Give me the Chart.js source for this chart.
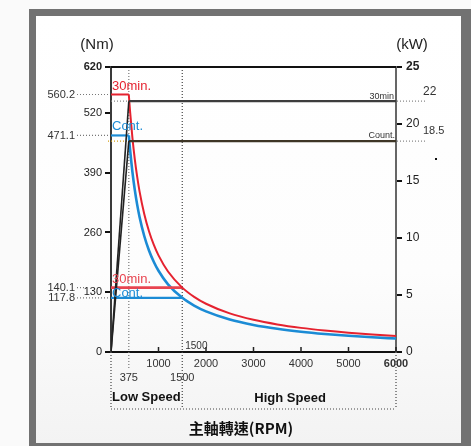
<!DOCTYPE html>
<html>
<head>
<meta charset="utf-8">
<script src="https://cdn.jsdelivr.net/npm/chart.js@4.4.1/dist/chart.umd.min.js"></script>
<style>
  html, body { margin:0; padding:0; background:#fafafa; }
  #wrap { position:relative; width:471px; height:446px; overflow:hidden; }
  #frame { position:absolute; left:29px; top:9px; width:442px; height:437px; box-sizing:border-box;
    border-style:solid; border-color:#727272; border-width:7px 10px 3px 7px;
    background:linear-gradient(180deg,#ffffff 0%,#fdfdfd 60%,#f3f3f3 100%); }
  canvas { position:absolute; left:0; top:0; }
</style>
</head>
<body>
<div id="wrap">
  <div id="frame"></div>
  <canvas id="c" width="471" height="446"></canvas>
</div>
<script>
// ---- data ----
const curveRpm   = [375, 400, 450, 500, 550, 600, 700, 800, 900, 1000, 1200, 1500, 1750, 2000, 2500, 3000, 3500, 4000, 4500, 5000, 5500, 6000];
const torque30   = [560.2, 525.2, 466.8, 420.2, 382.0, 350.1, 300.1, 262.6, 233.4, 210.1, 175.1, 140.1, 120.0, 105.0, 84.0, 70.0, 60.0, 52.5, 46.7, 42.0, 38.2, 35.0];
const torqueCont = [471.1, 441.7, 392.6, 353.3, 321.2, 294.4, 252.4, 220.8, 196.3, 176.7, 147.2, 117.8, 100.9, 88.3, 70.7, 58.9, 50.5, 44.2, 39.3, 35.3, 32.1, 29.4];
const baseRpm    = [0, 375];          // constant-torque region
const lowRpm     = [0, 1500];         // low-speed winding region
const powerRpm   = [0, 375, 6000];
const power30    = [0, 22, 22];
const powerCont  = [0, 18.5, 18.5];
const leftTicks  = [0, 130, 260, 390, 520, 620];
const rightTicks = [0, 5, 10, 15, 20, 25];
const xTicks     = [1000, 2000, 3000, 4000, 5000, 6000];
const torqueMarks = [560.2, 471.1, 140.1, 117.8];
const powerMarks  = [22, 18.5];
const speedMarks  = [375, 1500];

const pts = (xs, ys) => xs.map((x, i) => ({x: x, y: ys[i]}));
const RED = '#e5222f', BLUE = '#1b8bd5';

const datasets = [
  {data: pts(powerRpm.slice(0,2), power30.slice(0,2)), yAxisID:'y1', borderColor:'#222', borderWidth:1.6},
  {data: pts(powerRpm.slice(0,2), powerCont.slice(0,2)), yAxisID:'y1', borderColor:'#222', borderWidth:1.6},
  {data: pts(powerRpm.slice(1), power30.slice(1)), yAxisID:'y1', borderColor:'#3c3c3c', borderWidth:2.2},
  {data: pts(powerRpm.slice(1), powerCont.slice(1)), yAxisID:'y1', borderColor:'#3e3626', borderWidth:2.2},
  {data: pts(baseRpm, [torque30[0], torque30[0]]), yAxisID:'y', borderColor:RED, borderWidth:2},
  {data: pts(curveRpm, torque30), yAxisID:'y', borderColor:RED, borderWidth:2, cubicInterpolationMode:'monotone'},
  {data: pts(lowRpm, [torque30[11], torque30[11]]), yAxisID:'y', borderColor:'#e84450', borderWidth:2.6},
  {data: pts(baseRpm, [torqueCont[0], torqueCont[0]]), yAxisID:'y', borderColor:BLUE, borderWidth:2.2},
  {data: pts(curveRpm, torqueCont), yAxisID:'y', borderColor:BLUE, borderWidth:2.6, cubicInterpolationMode:'monotone'},
  {data: pts(lowRpm, [torqueCont[11], torqueCont[11]]), yAxisID:'y', borderColor:BLUE, borderWidth:2.4}
].map(d => Object.assign({pointRadius:0, fill:false, tension:0}, d));

function dotted(ctx, x1, y1, x2, y2, color, w) {
  ctx.save();
  ctx.strokeStyle = color; ctx.lineWidth = w || 1; ctx.setLineDash([1, 2]);
  ctx.beginPath(); ctx.moveTo(x1, y1); ctx.lineTo(x2, y2); ctx.stroke();
  ctx.restore();
}
function text(ctx, s, x, y, font, color, align) {
  ctx.save();
  ctx.font = font; ctx.fillStyle = color; ctx.textAlign = align || 'left'; ctx.textBaseline = 'middle';
  ctx.fillText(s, x, y);
  ctx.restore();
}
const SANS = '"Liberation Sans", Arial, sans-serif';

const decor = {
  id: 'decor',
  beforeDatasetsDraw(chart) {
    const {ctx, chartArea: a, scales} = chart;
    const x = scales.x, y1 = scales.y1;
    const x375 = x.getPixelForValue(speedMarks[0]);
    const x1500 = x.getPixelForValue(speedMarks[1]);
    dotted(ctx, x375, a.top, x375, a.bottom + 18, '#777', 1.2);
    dotted(ctx, x1500, a.top, x1500, a.bottom + 57, '#444', 1.2);
    dotted(ctx, a.left, a.bottom, a.left, a.bottom + 57, '#444', 1.2);
    dotted(ctx, a.right, a.bottom, a.right, a.bottom + 57, '#444', 1.2);
    dotted(ctx, a.left, a.bottom + 57, a.right, a.bottom + 57, '#444', 1.2);
    // left stubs of power levels
    dotted(ctx, a.left, y1.getPixelForValue(powerMarks[0]), x375, y1.getPixelForValue(powerMarks[0]), '#888', 1.2);
    dotted(ctx, a.left - 3, y1.getPixelForValue(powerMarks[1]), x375, y1.getPixelForValue(powerMarks[1]), '#d4a017', 1.2);
    // top border
    ctx.save(); ctx.strokeStyle = '#111'; ctx.lineWidth = 2;
    ctx.beginPath(); ctx.moveTo(a.left, a.top); ctx.lineTo(a.right, a.top); ctx.stroke(); ctx.restore();
  },
  afterDraw(chart) {
    const {ctx, chartArea: a, scales} = chart;
    const x = scales.x, y = scales.y, y1 = scales.y1;
    const x1500 = x.getPixelForValue(speedMarks[1]);
    // x ticks (inward)
    ctx.save(); ctx.strokeStyle = '#222'; ctx.lineWidth = 1.5;
    xTicks.forEach(v => { const px = x.getPixelForValue(v); ctx.beginPath(); ctx.moveTo(px, a.bottom); ctx.lineTo(px, a.bottom - 5); ctx.stroke(); });
    ctx.restore();
    // left leader lines and values
    const f11 = '11px ' + SANS;
    torqueMarks.forEach((v, i) => {
      const py = y.getPixelForValue(v);
      const end = (i === 2) ? 85 : a.left - 1;
      dotted(ctx, 77, py, end, py, '#777', 1.2);
      text(ctx, v.toFixed(1), 75, py + 0.5, f11, '#333', 'right');
    });
    // right leader lines and values
    powerMarks.forEach((v, i) => {
      const py = y1.getPixelForValue(v);
      dotted(ctx, a.right + 1, py, 427, py, '#888', 1.2);
      text(ctx, String(v), 423, py - 10, (i === 0 ? '12px ' : '11px ') + SANS, '#333', 'left');
    });
    ctx.save(); ctx.fillStyle = '#111'; ctx.fillRect(435, 158, 2, 2); ctx.restore();
    const f9 = '9px ' + SANS;
    text(ctx, '30min', a.right - 2, y1.getPixelForValue(powerMarks[0]) - 5, f9, '#333', 'right');
    text(ctx, 'Count.', a.right - 1, y1.getPixelForValue(powerMarks[1]) - 6, f9, '#333', 'right');
    // curve labels
    const f13 = '13px ' + SANS;
    text(ctx, '30min.', a.left + 1, y.getPixelForValue(torqueMarks[0]) - 8, f13, RED);
    text(ctx, 'Cont.', a.left + 1, y.getPixelForValue(torqueMarks[1]) - 9, f13, BLUE);
    text(ctx, '30min.', a.left + 1, y.getPixelForValue(torqueMarks[2]) - 8, f13, '#e84450');
    text(ctx, 'Cont.', a.left + 1, y.getPixelForValue(torqueMarks[3]) - 4, f13, BLUE);
    // speed marks
    text(ctx, '1500', x1500 + 3, a.bottom - 6, '10px ' + SANS, '#333', 'left');
    text(ctx, String(speedMarks[0]), x.getPixelForValue(speedMarks[0]), a.bottom + 26, f11, '#333', 'center');
    text(ctx, String(speedMarks[1]), x1500, a.bottom + 26, f11, '#333', 'center');
    // unit titles
    const f15 = '15px ' + SANS;
    text(ctx, '(Nm)', 97, 45, f15, '#222', 'center');
    text(ctx, '(kW)', 412, 45, f15, '#222', 'center');
    // speed range labels
    const fb = 'bold 13px ' + SANS;
    text(ctx, 'Low Speed', a.left + 1, a.bottom + 45, fb, '#111', 'left');
    text(ctx, 'High Speed', (x1500 + a.right) / 2 + 1, a.bottom + 46, fb, '#111', 'center');
    text(ctx, '主軸轉速(RPM)', 241, 428, 'bold 15px "Noto Sans CJK TC", sans-serif', '#111', 'center');
  }
};

new Chart(document.getElementById('c'), {
  type: 'line',
  data: {datasets: datasets},
  options: {
    responsive: false, animation: false, parsing: true,
    layout: {padding: {top: 67, left: 0, right: 0, bottom: 0}},
    plugins: {legend: {display: false}, tooltip: {enabled: false}},
    scales: {
      x: {
        type: 'linear', min: 0, max: 6000,
        afterBuildTicks: s => { s.ticks = xTicks.map(v => ({value: v})); },
        afterFit: s => { s.height = 94; },
        grid: {display: false, drawTicks: false},
        border: {display: true, color: '#111', width: 2},
        ticks: {padding: 5, color: '#333', maxRotation: 0, autoSkip: false,
          callback: v => String(v),
          font: c => (c.tick && c.tick.value === 6000) ? {size: 11, weight: 'bold', family: SANS} : {size: 11, family: SANS}}
      },
      y: {
        position: 'left', min: 0, max: 620,
        afterBuildTicks: s => { s.ticks = leftTicks.map(v => ({value: v})); },
        afterFit: s => { s.width = 111; },
        grid: {drawOnChartArea: false, drawTicks: true, tickLength: 6, color: '#111', lineWidth: 2},
        border: {display: true, color: '#3a3a3a', width: 2},
        ticks: {padding: 3, color: '#222', autoSkip: false,
          callback: v => String(v),
          font: c => (c.tick && c.tick.value === 620) ? {size: 11, weight: 'bold', family: SANS} : {size: 11, family: SANS}}
      },
      y1: {
        position: 'right', min: 0, max: 25,
        afterBuildTicks: s => { s.ticks = rightTicks.map(v => ({value: v})); },
        afterFit: s => { s.width = 75; },
        grid: {drawOnChartArea: false, drawTicks: true, tickLength: 6, color: '#111', lineWidth: 2},
        border: {display: true, color: '#666', width: 2},
        ticks: {padding: 4, color: '#222', autoSkip: false,
          callback: v => String(v),
          font: c => (c.tick && c.tick.value === 25) ? {size: 12, weight: 'bold', family: SANS} : {size: 12, family: SANS}}
      }
    }
  },
  plugins: [decor]
});
</script>
</body>
</html>
